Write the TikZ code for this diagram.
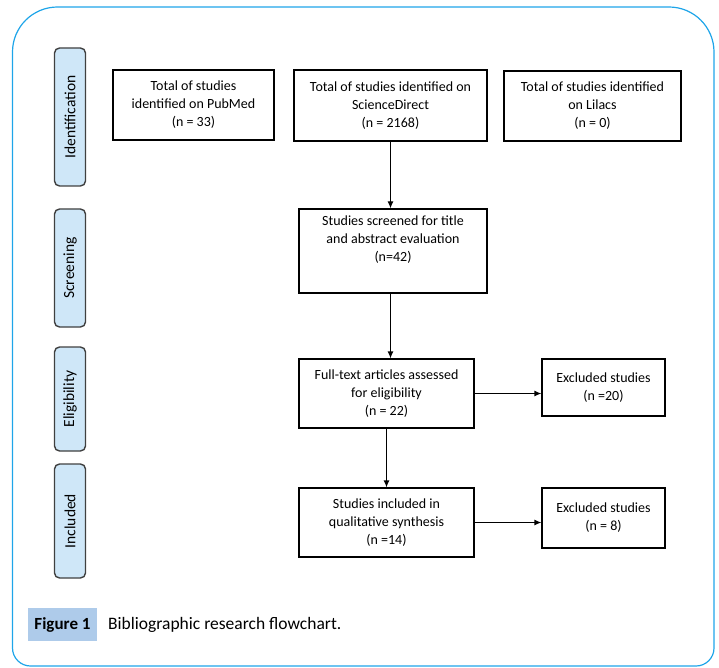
\documentclass[tikz,border=0pt]{standalone}
\usepackage{fontspec}
\setmainfont{Carlito}
\usetikzlibrary{arrows.meta}

\definecolor{framecol}{RGB}{30,165,233}
\definecolor{stagecol}{RGB}{207,231,248}
\definecolor{capcol}{RGB}{174,203,234}

\begin{document}
\begin{tikzpicture}
    [%%%%%%%%%%%%%%%%%%%%%%%%%%%%%%
        x=1pt,y=-1pt,
        flowbox/.style={rectangle,draw=black,line width=1.2pt,inner sep=0pt,align=center,font=\fontsize{14}{18}\selectfont},
        stagebox/.style={rectangle,rounded corners=5pt,draw=black!75,line width=1.4pt,fill=stagecol,inner sep=0pt,minimum height=31pt,rotate=90,font=\fontsize{15.5}{18}\selectfont},
        flowarrow/.style={-{Latex[length=7pt,width=6pt]},line width=1.2pt},
    ]%%%%%%%%%%%%%%%%%%%%%%%%%%%%%%

\useasboundingbox (0,0) rectangle (719,668);

% frame
\draw[framecol,line width=1.2pt] (40,666) [rounded corners=18pt] -- (12.5,666) -- (12.5,300) [rounded corners=45pt] -- (12.5,7) -- (714,7) -- (714,300) [rounded corners=18pt] -- (714,666) -- (40,666);

% stages
\node[stagebox,minimum width=138pt] (ident) at (70,117) {Identification};
\node[stagebox,minimum width=118pt] (screen) at (70,268) {Screening};
\node[stagebox,minimum width=104pt] (elig) at (70,399) {Eligibility};
\node[stagebox,minimum width=114pt] (incl) at (70,521) {Included};

% boxes
\node[flowbox,minimum width=161pt,minimum height=70pt] (pubmed) at (193.5,105) {Total of studies\\identified on PubMed\\(n = 33)};
\node[flowbox,minimum width=193pt,minimum height=71pt] (sciencedirect) at (390.5,105.5) {Total of studies identified on\\ScienceDirect\\(n = 2168)};
\node[flowbox,minimum width=177pt,minimum height=70pt] (lilacs) at (592.5,106) {Total of studies identified\\on Lilacs\\(n = 0)};

\node[flowbox,minimum width=188pt,minimum height=84pt] (screened) at (393,251) {Studies screened for title\\and abstract evaluation\\(n=42)\\[6pt]};
\node[flowbox,minimum width=175pt,minimum height=69pt] (fulltext) at (386.5,393.5) {Full-text articles assessed\\for eligibility\\(n = 22)};
\node[flowbox,minimum width=123pt,minimum height=57pt] (excluded1) at (603.5,387.5) {Excluded studies\\(n =20)};
\node[flowbox,minimum width=175pt,minimum height=69pt] (included) at (386.5,522.5) {Studies included in\\qualitative synthesis\\(n =14)};
\node[flowbox,minimum width=123pt,minimum height=60pt] (excluded2) at (603.5,518) {Excluded studies\\(n = 8)};

% arrows
\draw[flowarrow] (sciencedirect.south) -- (sciencedirect.south |- screened.north);
\draw[flowarrow] (screened.south -| sciencedirect.south) -- (fulltext.north -| sciencedirect.south);
\draw[flowarrow] (fulltext) -- (included);
\draw[flowarrow] (fulltext.east) -- (excluded1.west |- fulltext.east);
\draw[flowarrow] (included.east) -- (excluded2.west |- included.east);

% caption
\node[fill=capcol,minimum width=69pt,minimum height=33pt,inner sep=0pt,font=\fontsize{17}{20}\selectfont\bfseries] (figlabel) at (62.5,624.5) {Figure 1};
\node[anchor=west,inner sep=0pt,font=\fontsize{17.5}{20}\selectfont] (figtext) at (108,624.5) {Bibliographic research flowchart.};
\end{tikzpicture}
\end{document}
